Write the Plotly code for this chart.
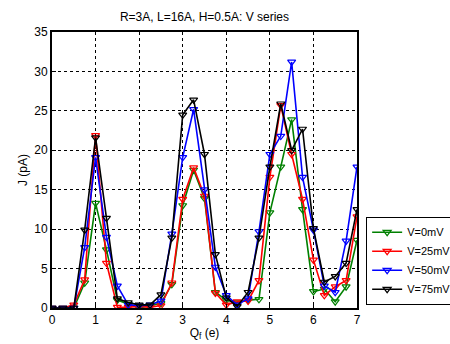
import plotly.graph_objects as go

x = [i * 0.25 for i in range(29)]

v0 = [0, 0, 0, 3.2, 13.3, 7.4, 1.0, 0.5, 0.0, 0.3, 0.6, 3.0, 13.0, 17.5, 13.9, 2.0,
      1.0, 0.7, 1.0, 1.1, 12.1, 17.9, 23.9, 12.5, 2.1, 2.4, 0.8, 2.7, 8.6]
v25 = [0, 0, 0.4, 3.6, 21.9, 5.7, 0.1, 0.1, 0.2, 0.1, 0.3, 3.2, 13.8, 17.8, 14.2, 1.9,
       0.4, 0.8, 0.9, 3.5, 16.6, 25.7, 19.5, 13.8, 6.1, 1.6, 2.7, 3.5, 11.6]
v50 = [0, 0, 0, 7.7, 19.1, 9.0, 2.8, 0.4, 0.3, 0.4, 0.9, 9.4, 19.1, 25.2, 15.0, 5.2,
       1.6, 0.4, 1.2, 9.7, 19.5, 21.8, 31.2, 16.6, 9.9, 2.8, 2.0, 8.5, 17.9]
v75 = [0, 0, 0, 9.9, 21.6, 11.4, 1.2, 0.7, 0.4, 0.4, 1.7, 8.9, 24.5, 26.4, 19.5, 6.8,
       1.3, 0.2, 2.0, 8.9, 17.9, 25.9, 20.0, 22.7, 10.1, 3.3, 4.0, 5.7, 12.5]

series = [("V=0mV", v0, "#008000"), ("V=25mV", v25, "#ff0000"),
          ("V=50mV", v50, "#0000ff"), ("V=75mV", v75, "#000000")]

fig = go.Figure()
for name, ys, col in series:
    fig.add_trace(go.Scatter(
        x=x, y=ys, name=name, mode="lines+markers",
        line=dict(color=col, width=1.6),
        marker=dict(symbol="triangle-down-open", size=7, color=col, line=dict(width=1.2, color=col)),
    ))

axis_common = dict(showline=True, linecolor="black", linewidth=2, mirror=True,
                   ticks="inside", ticklen=4, tickcolor="black",
                   showgrid=True, gridcolor="black", griddash="dot", gridwidth=1,
                   zeroline=False, tickfont=dict(size=12, color="black"))

fig.update_layout(
    width=450, height=344,
    margin=dict(l=52, r=93, t=32, b=36, autoexpand=False),
    paper_bgcolor="white", plot_bgcolor="white",
    font=dict(family="Liberation Sans, Arial, sans-serif", size=12, color="black"),
    title=dict(text="R=3A, L=16A, H=0.5A: V series", x=(52 + 357) / 2 / 450, xanchor="center",
               y=1 - 17 / 344, yanchor="middle", font=dict(size=12)),
    xaxis=dict(range=[0, 7], dtick=1, title=dict(text="Q<sub>f</sub> (e)", standoff=2, font=dict(size=12)),
               **axis_common),
    yaxis=dict(range=[0, 35], dtick=5, title=dict(text="J (pA)", standoff=4, font=dict(size=12)),
               **axis_common),
    legend=dict(x=1.03, xanchor="left", y=0.012, yanchor="bottom",
                bordercolor="black", borderwidth=1, bgcolor="white",
                font=dict(size=11), tracegroupgap=0, itemwidth=30),
)

fig.write_html("out.html")
